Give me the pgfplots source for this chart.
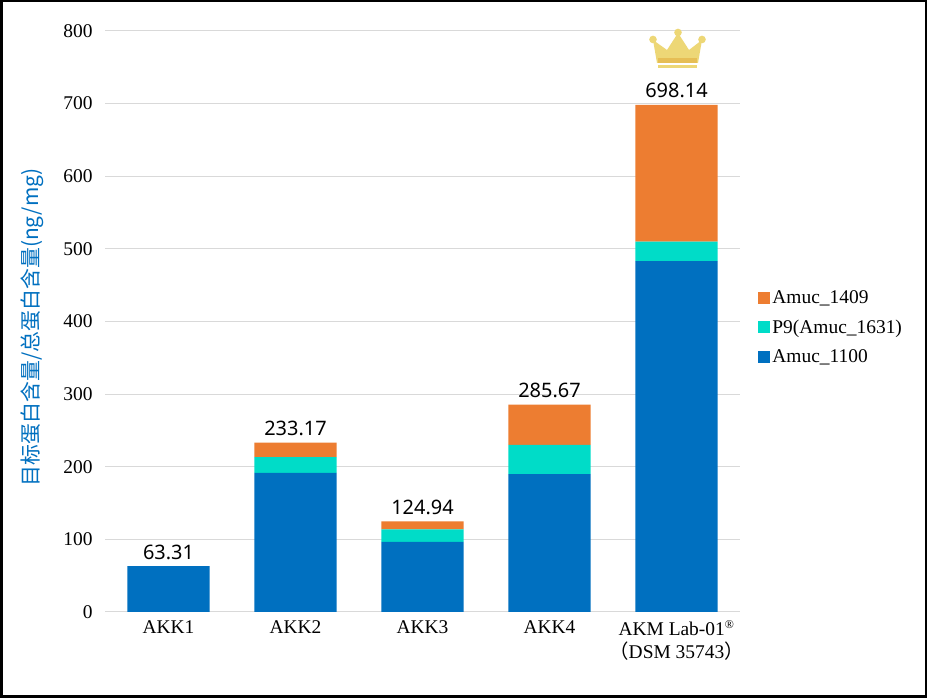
\documentclass[border=0pt]{standalone}
\usepackage{fontspec}
\setmainfont{Liberation Serif}
\newfontfamily\cjk{Noto Sans CJK SC}
\newfontfamily\lblfont{Noto Sans}
\usepackage{pgfplots}
\pgfplotsset{compat=1.18}
\usepackage{pgfplotstable}
\definecolor{cblue}{HTML}{0070C0}
\definecolor{cteal}{HTML}{00DCC8}
\definecolor{corange}{HTML}{ED7D31}
\definecolor{cgrid}{HTML}{D9D9D9}
\definecolor{ylab}{HTML}{0070C0}
\definecolor{gold}{HTML}{EDD776}
\definecolor{golddark}{HTML}{E6BE55}

\pgfplotstableread{
x a1100 p9 a1409 total
0 63.31 0 0 63.31
1 191.7 21.7 19.77 233.17
2 96.6 17.0 11.34 124.94
3 190.0 40.0 55.67 285.67
4 483.0 27.0 188.14 698.14
}\datatable

\pgfplotsset{common/.style={
  at={(105bp,86bp)}, anchor=south west,
  scale only axis, width=635bp, height=581bp,
  xmin=-0.5, xmax=4.5, ymin=0, ymax=800}}

\begin{document}
\begin{tikzpicture}[x=1bp,y=1bp]
\useasboundingbox (0,0) rectangle (927,698);
\fill[white] (0,0) rectangle (927,698);
\begin{axis}[
  common,
  ybar stacked, bar width=0.646,
  ytick={0,100,...,800},
  xtick={0,...,4},
  xticklabels={AKK1,AKK2,AKK3,AKK4,{AKM Lab-01\textsuperscript{\fontsize{12}{12}\selectfont ®}\\{\cjk （}DSM 35743{\cjk ）}}},
  xticklabel style={align=center, font=\fontsize{19.5}{23}\selectfont, yshift=-5bp},
  yticklabel style={font=\fontsize{19.5}{23}\selectfont, xshift=-9bp},
  /pgf/number format/assume math mode=true,
  axis line style={draw=none},
  major tick length=0pt,
  ymajorgrids, grid style={cgrid, line width=1bp},
  ylabel={\cjk 目标蛋白含量/总蛋白含量(ng/mg)},
  ylabel style={at={(rel axis cs:-0.115,0.49)}, anchor=center, font=\fontsize{21}{24}\selectfont, color=ylab},
  reverse legend,
  legend style={at={(rel axis cs:1.024,0.49)}, anchor=west, draw=none, fill=none,
    font=\fontsize{19.5}{23}\selectfont, row sep=11bp, cells={anchor=west}},
  legend image code/.code={\fill[#1] (-7bp,-6bp) rectangle (5bp,6bp);},
]
\addplot[fill=cblue, draw=none] table[x=x,y=a1100]{\datatable};
\addlegendentry{Amuc\_1100}
\addplot[fill=cteal, draw=none] table[x=x,y=p9]{\datatable};
\addlegendentry{P9(Amuc\_1631)}
\addplot[fill=corange, draw=none] table[x=x,y=a1409]{\datatable};
\addlegendentry{Amuc\_1409}
\end{axis}
\begin{axis}[common, hide axis]
\addplot[draw=none, mark=none, nodes near coords, point meta=explicit symbolic,
  nodes near coords style={font=\lblfont\fontsize{20}{24}\selectfont, anchor=south, color=black, inner sep=6.5bp}]
  table[x=x,y=total,meta=total]{\datatable};
\end{axis}
% crown decoration
\begin{scope}[yscale=-1, yshift=-698bp]
\fill[gold] (657,63) -- (653,40) -- (667,50) -- (678,33) -- (689,50) -- (702,40) -- (698,63) -- cycle;
\fill[golddark] (657.6,58.5) rectangle (697.4,63);
\fill[gold] (653,39.5) circle (3.8);
\fill[gold] (678,32.5) circle (3.8);
\fill[gold] (702,39.5) circle (3.8);
\fill[gold] (658,65.5) rectangle (697,68.5);
\end{scope}
\draw[black, line width=2.5bp] (1.25,1.25) rectangle (925.75,696.75);
\end{tikzpicture}
\end{document}
